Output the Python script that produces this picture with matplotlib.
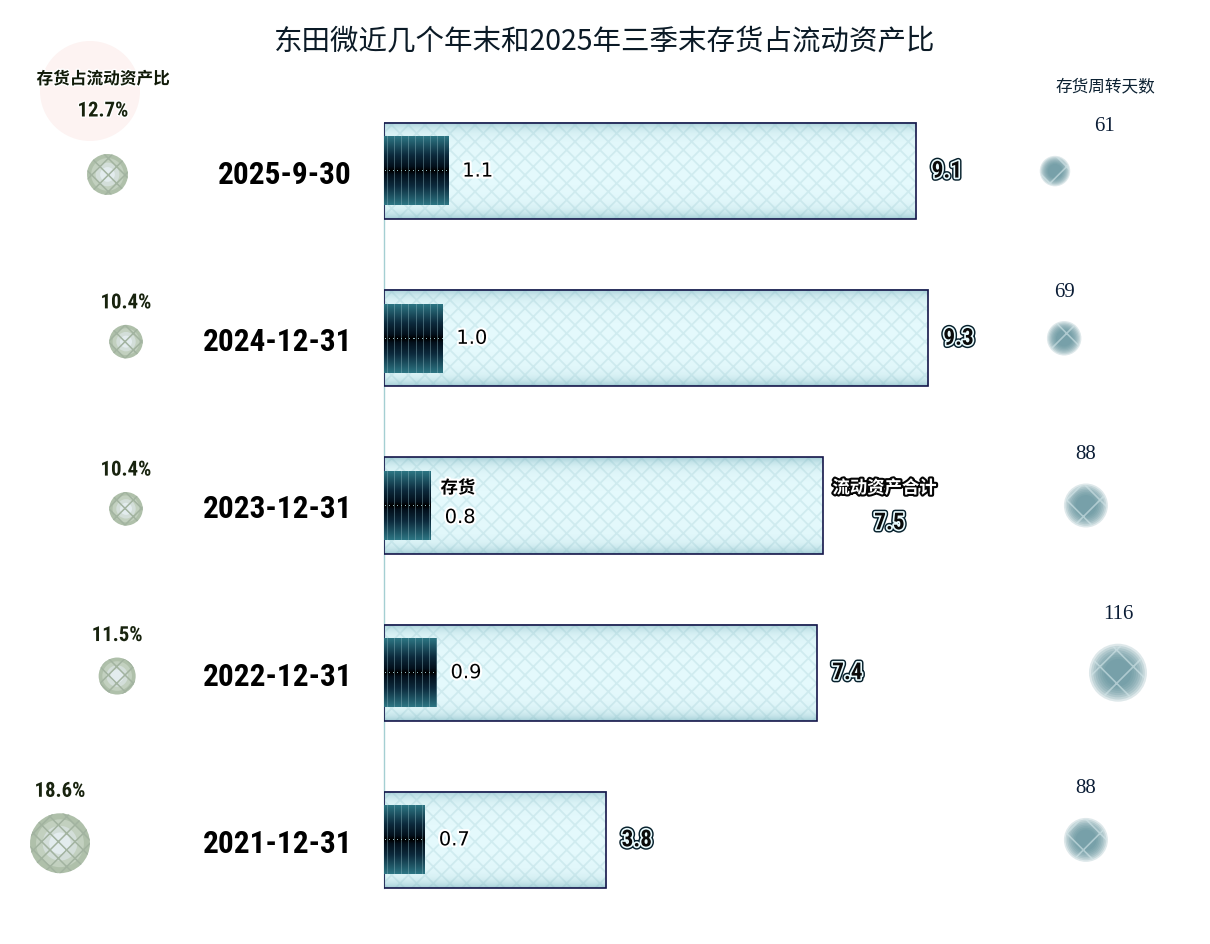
import numpy as np
import matplotlib
matplotlib.use("Agg")
import matplotlib.pyplot as plt
import matplotlib.patheffects as pe
from matplotlib import font_manager
from matplotlib.patches import Circle
from matplotlib.colors import to_rgb

# ---- data ----
dates = ["2025-9-30", "2024-12-31", "2023-12-31", "2022-12-31", "2021-12-31"]
current_assets = [9.1, 9.3, 7.5, 7.4, 3.8]      # 流动资产合计
inventory = [1.1, 1.0, 0.8, 0.9, 0.7]           # 存货
inv_ratio = [12.7, 10.4, 10.4, 11.5, 18.6]      # 存货占流动资产比 %
turnover_days = [61, 69, 88, 116, 88]           # 存货周转天数

TITLE = "东田微近几个年末和2025年三季末存货占流动资产比"

# ---- fonts: look for a narrow bold face, else shrink DejaVu ----
ttf = font_manager.fontManager.ttflist
names = {f.name for f in ttf}
NARROW, STRETCH, NS = "DejaVu Sans", "normal", 0.68
if "Liberation Sans Narrow" in names:
    NARROW, NS = "Liberation Sans Narrow", 1.0
elif "Roboto Condensed" in names:
    NARROW, NS = "Roboto Condensed", 0.9
elif any(f.name == "DejaVu Sans" and f.stretch == "condensed" for f in ttf):
    STRETCH, NS = "condensed", 0.78
SERIF = "Liberation Serif" if "Liberation Serif" in names else "DejaVu Serif"
CJK = "Noto Sans CJK SC"
plt.rcParams["font.family"] = ["DejaVu Sans", CJK]
plt.rcParams["hatch.linewidth"] = 1.3

W, H = 1210, 945
fig = plt.figure(figsize=(W / 100, H / 100), dpi=100)
fig.patch.set_facecolor("white")

PX = 58.5                       # pixels per unit on the bar axis
bottom, height = 1 - 924.5 / H, 836 / H
ax = fig.add_axes([384 / W, bottom, 585 / W, height])
y = np.arange(len(dates))
BAR_H, INV_H = 0.575, 0.41

# outer bars: pale cyan with diamond hatch
ax.barh(y, current_assets, height=BAR_H, color="#e4f9fc", edgecolor="#d0ecf0",
        linewidth=0, hatch="xx", zorder=1)

# darker teal bands along top/bottom edge of each bar
t = np.linspace(0, 1, 96)
dist = np.minimum(t, 1 - t)
shade = np.zeros((96, 2, 4))
shade[..., :3] = to_rgb("#7bb3be")
shade[..., 3] = (0.6 * np.exp(-dist / 0.07))[:, None]
for yi, v in zip(y, current_assets):
    ax.imshow(shade, extent=[0, v, yi + BAR_H / 2, yi - BAR_H / 2], aspect="auto",
              interpolation="bilinear", zorder=2)

ax.barh(y, current_assets, height=BAR_H, fill=False, edgecolor="#15164a",
        linewidth=1.2, zorder=3)

# inner bars: dark teal/black gradient with thin light stripes
ax.barh(y, inventory, height=INV_H, color="#08202e", linewidth=0, zorder=3.5)
ny = 69
tt = np.abs(np.linspace(-1, 1, ny))
nodes = [0, 0.12, 0.45, 1.0]
cols = np.array([to_rgb(c) for c in ["#000000", "#03101c", "#0c2a3c", "#2c7482"]])
prof = np.stack([np.interp(tt, nodes, cols[:, k]) for k in range(3)], axis=1)
light = np.array(to_rgb("#8fb9c2"))
for yi, v in zip(y, inventory):
    nx = max(int(round(v * PX)), 2)
    img = np.tile(prof[:, None, :], (1, nx, 1))
    stripe = np.arange(nx) % 7 == 3
    img[:, stripe] = img[:, stripe] * 0.6 + light * 0.4
    dots = np.arange(nx) % 4 == 1
    img[ny // 2, dots] = light
    ax.imshow(img, extent=[0, v, yi + INV_H / 2, yi - INV_H / 2], aspect="auto",
              interpolation="nearest", zorder=4)

LEGEND_ROW = 2
halo_w = [pe.withStroke(linewidth=3, foreground="white")]
total_fx = [pe.Stroke(linewidth=4.5, foreground="#06202c"),
            pe.Stroke(linewidth=2.4, foreground="#eafcff"), pe.Normal()]
TOT_FS = 17 * NS + 1.5
for i, (yi, inv, tot) in enumerate(zip(y, inventory, current_assets)):
    dy = -12 if i == LEGEND_ROW else 0
    ax.annotate(f"{inv:.1f}", (inv, yi), xytext=(10, dy * 0.72), textcoords="offset points",
                ha="left", va="center", fontsize=14, color="black", path_effects=halo_w, zorder=6)
    if i == LEGEND_ROW:
        ax.annotate("存货", (inv, yi), xytext=(7, 12.5), textcoords="offset points",
                    ha="left", va="center", fontsize=12.5, fontweight="bold", family=CJK,
                    color="black", path_effects=halo_w, zorder=6)
        ax.annotate("流动资产合计", (tot, yi), xytext=(7, 12.5), textcoords="offset points",
                    ha="left", va="center", fontsize=12.5, fontweight="bold", family=CJK,
                    color="white", zorder=6,
                    path_effects=[pe.withStroke(linewidth=3, foreground="#050505")])
        ax.annotate(f"{tot:.1f}", (tot, yi), xytext=(48, -12.5), textcoords="offset points",
                    ha="center", va="center", fontsize=TOT_FS, fontweight="bold",
                    family=NARROW, fontstretch=STRETCH, color="#0a0a0a",
                    path_effects=total_fx, zorder=6)
    else:
        ax.annotate(f"{tot:.1f}", (tot, yi), xytext=(11, 0), textcoords="offset points",
                    ha="left", va="center", fontsize=TOT_FS, fontweight="bold",
                    family=NARROW, fontstretch=STRETCH, color="#0a0a0a",
                    path_effects=total_fx, zorder=6)

ax.set_xlim(0, 10)
ax.set_ylim(4.5, -0.5)
ax.set_xticks([])
ax.set_yticks(y, dates)
ax.tick_params(axis="y", length=0, pad=23)
for lab in ax.get_yticklabels():
    lab.set_fontfamily(NARROW)
    lab.set_fontstretch(STRETCH)
    lab.set_fontweight("bold")
    lab.set_fontsize(25 * NS)
for s in ["top", "right", "bottom"]:
    ax.spines[s].set_visible(False)
ax.spines["left"].set_color("#a4cfd2")
ax.spines["left"].set_linewidth(1.0)
ax.spines["left"].set_bounds(y[0] - BAR_H / 2, y[-1] + BAR_H / 2)
ax.set_facecolor("none")

# ---- left: inventory share bubbles ----
axL = fig.add_axes([0, bottom, 200 / W, height])
axL.set_xlim(26.05, 1.21)
axL.set_ylim(4.5, -0.5)
axL.axis("off")
rL = 1.61 * np.array(inv_ratio)
sL = (2 * rL * 0.72) ** 2
for frac, col in zip([1.0, 0.8, 0.58, 0.36], ["#afc0aa", "#c2d0bf", "#d3ded9", "#e3ecee"]):
    axL.scatter(inv_ratio, y + 0.02, s=sL * frac ** 2, color=col, linewidths=0, zorder=2)
with plt.rc_context({"hatch.color": "#a2b3a0", "hatch.linewidth": 1.1}):
    axL.scatter(inv_ratio, y + 0.02, s=sL, facecolor="none", edgecolor="#a2b3a0",
                hatch="xx", linewidths=0, zorder=3)
PCT_FS = 15.5 * NS + 1
for i, (v, yi, r) in enumerate(zip(inv_ratio, y, rL)):
    if i == 0:
        continue        # first value is shown in the legend bubble
    axL.annotate(f"{v:.1f}%", (v, yi + 0.02), xytext=(0, (r + 22) * 0.72),
                 textcoords="offset points", ha="center", va="center",
                 fontsize=PCT_FS, fontweight="bold", family=NARROW, fontstretch=STRETCH,
                 color="#18230e",
                 path_effects=[pe.withStroke(linewidth=2, foreground="white")])

# legend bubble top-left
fig.add_artist(Circle((0.90, (H - 92) / 100), 0.5, transform=fig.dpi_scale_trans,
                      facecolor="#fdf3f2", edgecolor="none", zorder=0))
fig.text(103 / W, 1 - 80 / H, "存货占流动资产比", ha="center", va="center", fontsize=12,
         fontweight="bold", family=CJK, color="#101a08",
         path_effects=[pe.withStroke(linewidth=2, foreground="white")])
fig.text(103 / W, 1 - 112 / H, f"{inv_ratio[0]:.1f}%", ha="center", va="center",
         fontsize=PCT_FS, fontweight="bold", family=NARROW, fontstretch=STRETCH,
         color="#18230e", path_effects=[pe.withStroke(linewidth=2, foreground="white")])

# ---- right: turnover days bubbles ----
axR = fig.add_axes([1000 / W, bottom, 210 / W, height])
axR.set_xlim(12.96, 196.4)
axR.set_ylim(4.5, -0.5)
axR.axis("off")
rR = 0.25 * np.array(turnover_days)
sR = (2 * rR * 0.72) ** 2
for k in range(8):
    frac = 1.0 - 0.075 * k
    axR.scatter(turnover_days, y, s=sR * frac ** 2, color="#5e8f99", alpha=0.2,
                linewidths=0, zorder=2)
with plt.rc_context({"hatch.color": "#d3e6e9", "hatch.linewidth": 1.2}):
    axR.scatter(turnover_days, y, s=sR * 0.85, facecolor="none", edgecolor="#d3e6e9",
                hatch="x", linewidths=0, alpha=0.6, zorder=3)
for i, (d, yi, r) in enumerate(zip(turnover_days, y, rR)):
    dx = 50 if i == 0 else 0     # first label sits under the header
    axR.annotate(f"{d}", (d, yi), xytext=(dx * 0.72, (r + 30) * 0.72),
                 textcoords="offset points", ha="center", va="center",
                 fontsize=15, family=SERIF, color="#0b1d36")

fig.text(1105 / W, 1 - 87 / H, "存货周转天数", ha="center", va="center", fontsize=12,
         family=CJK, color="#0d2233")

fig.text(605 / W, 1 - 42 / H, TITLE, ha="center", va="center", fontsize=20.5,
         family=CJK, color="#0b1a26")

fig.savefig("out.png", dpi=100)
